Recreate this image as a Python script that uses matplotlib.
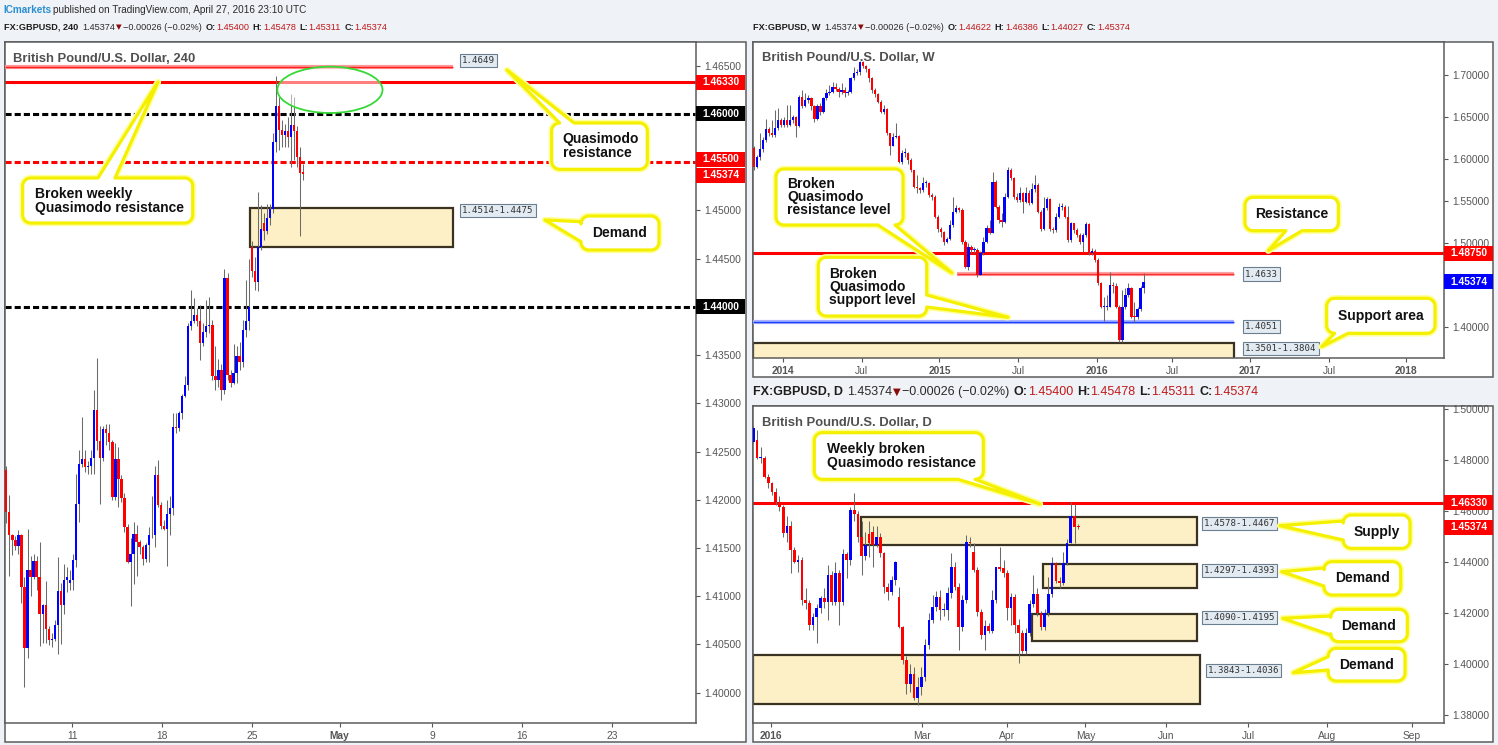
"""GBP/USD snapshot in three panes: 4H (left), weekly (top right), daily (bottom right)."""

import numpy as np
import matplotlib
matplotlib.use("Agg")
import matplotlib.pyplot as plt
from matplotlib import font_manager, transforms
from matplotlib.patches import Rectangle, Ellipse, Polygon

# ---------------------------------------------------------------- 4H data
h4_open = [1.4231, 1.4187, 1.4164, 1.4158, 1.4152, 1.4164, 1.4110, 1.4046, 1.4127, 1.4120,
           1.4137, 1.4120, 1.4082, 1.4091, 1.4066, 1.4055, 1.4056, 1.4070, 1.4105, 1.4091,
           1.4117, 1.4114, 1.4117, 1.4138, 1.4196, 1.4237, 1.4242, 1.4234, 1.4235, 1.4243,
           1.4293, 1.4261, 1.4243, 1.4273, 1.4269, 1.4260, 1.4203, 1.4242, 1.4222, 1.4202,
           1.4172, 1.4135, 1.4144, 1.4165, 1.4156, 1.4151, 1.4139, 1.4153, 1.4164, 1.4163,
           1.4226, 1.4195, 1.4173, 1.4170, 1.4185, 1.4192, 1.4275, 1.4274, 1.4290, 1.4308,
           1.4319, 1.4380, 1.4385, 1.4392, 1.4385, 1.4363, 1.4374, 1.4380, 1.4381, 1.4328,
           1.4324, 1.4335, 1.4314, 1.4430, 1.4329, 1.4321, 1.4331, 1.4349, 1.4343, 1.4376,
           1.4385, 1.4462, 1.4437, 1.4426, 1.4462, 1.4487, 1.4479, 1.4492, 1.4501, 1.4571,
           1.4608, 1.4583, 1.4578, 1.4582, 1.4576, 1.4589, 1.4582, 1.4555, 1.45400]
h4_high = [1.4235, 1.4205, 1.4165, 1.4162, 1.4169, 1.4165, 1.4120, 1.4170, 1.4142, 1.4144,
           1.4142, 1.4156, 1.4092, 1.4116, 1.4069, 1.4062, 1.4075, 1.4141, 1.4114, 1.4133,
           1.4130, 1.4127, 1.4144, 1.4227, 1.4252, 1.4286, 1.4252, 1.4240, 1.4252, 1.4314,
           1.4347, 1.4276, 1.4276, 1.4279, 1.4279, 1.4262, 1.4259, 1.4255, 1.4226, 1.4207,
           1.4175, 1.4160, 1.4177, 1.4174, 1.4158, 1.4153, 1.4155, 1.4172, 1.4204, 1.4235,
           1.4241, 1.4198, 1.4179, 1.4200, 1.4204, 1.4290, 1.4290, 1.4292, 1.4310, 1.4328,
           1.4383, 1.4418, 1.4409, 1.4399, 1.4402, 1.4383, 1.4407, 1.4410, 1.4386, 1.4359,
           1.4346, 1.4341, 1.4439, 1.4435, 1.4335, 1.4362, 1.4359, 1.4364, 1.4386, 1.4428,
           1.4450, 1.4468, 1.4452, 1.4519, 1.4506, 1.4497, 1.4507, 1.4507, 1.4580, 1.4639,
           1.4618, 1.4594, 1.4590, 1.4597, 1.4621, 1.4618, 1.4587, 1.4566, 1.45478]
h4_low = [1.4176, 1.4121, 1.4143, 1.4148, 1.4144, 1.4093, 1.4006, 1.4036, 1.4100, 1.4118,
          1.4107, 1.4048, 1.4052, 1.4052, 1.4049, 1.4047, 1.4054, 1.4040, 1.4050, 1.4082,
          1.4104, 1.4107, 1.4107, 1.4130, 1.4177, 1.4234, 1.4229, 1.4227, 1.4227, 1.4227,
          1.4252, 1.4196, 1.4240, 1.4257, 1.4252, 1.4200, 1.4200, 1.4193, 1.4198, 1.4167,
          1.4134, 1.4090, 1.4113, 1.4121, 1.4144, 1.4132, 1.4136, 1.4136, 1.4160, 1.4151,
          1.4193, 1.4170, 1.4169, 1.4131, 1.4164, 1.4184, 1.4269, 1.4271, 1.4284, 1.4307,
          1.4314, 1.4376, 1.4383, 1.4380, 1.4345, 1.4359, 1.4369, 1.4373, 1.4324, 1.4314,
          1.4317, 1.4303, 1.4310, 1.4324, 1.4317, 1.4320, 1.4321, 1.4335, 1.4338, 1.4369,
          1.4376, 1.4431, 1.4418, 1.4416, 1.4459, 1.4469, 1.4476, 1.4485, 1.4497, 1.4561,
          1.4563, 1.4566, 1.4566, 1.4566, 1.4545, 1.4552, 1.4545, 1.4473, 1.45311]
h4_close = [1.4187, 1.4164, 1.4158, 1.4152, 1.4164, 1.4110, 1.4046, 1.4127, 1.4120, 1.4137,
            1.4120, 1.4082, 1.4091, 1.4066, 1.4055, 1.4056, 1.4070, 1.4105, 1.4091, 1.4117,
            1.4120, 1.4117, 1.4138, 1.4196, 1.4237, 1.4242, 1.4234, 1.4235, 1.4243, 1.4293,
            1.4261, 1.4243, 1.4273, 1.4269, 1.4260, 1.4203, 1.4242, 1.4222, 1.4202, 1.4172,
            1.4135, 1.4144, 1.4165, 1.4156, 1.4151, 1.4139, 1.4153, 1.4164, 1.4163, 1.4226,
            1.4195, 1.4173, 1.4170, 1.4185, 1.4192, 1.4275, 1.4274, 1.4290, 1.4308, 1.4319,
            1.4380, 1.4385, 1.4392, 1.4385, 1.4363, 1.4374, 1.4380, 1.4381, 1.4328, 1.4324,
            1.4335, 1.4314, 1.4430, 1.4329, 1.4321, 1.4331, 1.4349, 1.4343, 1.4376, 1.4385,
            1.4400, 1.4437, 1.4426, 1.4462, 1.4481, 1.4479, 1.4492, 1.4501, 1.4571, 1.4608,
            1.4583, 1.4578, 1.4582, 1.4576, 1.4589, 1.4582, 1.4555, 1.4539, 1.45374]
h4_ticks = [21.7, 51.4, 81.1, 110.0, 140.5, 170.2, 199.9]
h4_tick_labels = ["11", "18", "25", "May", "9", "16", "23"]
h4_qm_weekly = 1.4633          # broken weekly Quasimodo resistance
h4_qm_resist = 1.4649          # Quasimodo resistance
h4_round = [1.4600, 1.4400]    # round numbers (black dashed)
h4_mid = 1.4550                # mid level (red dashed)
h4_demand = (1.4462, 1.4503)   # drawn demand box (labelled 1.4514-1.4475)

# ------------------------------------------------------------ weekly data
w_first_open = 1.6126
w_close = [1.5907, 1.6019, 1.6114, 1.6225, 1.6352, 1.6305, 1.6285, 1.6364, 1.6463, 1.6404,
           1.6463, 1.6404, 1.6463, 1.6495, 1.6392, 1.6742, 1.6630, 1.6702, 1.6722, 1.6630,
           1.6475, 1.6630, 1.6563, 1.6722, 1.6789, 1.6801, 1.6861, 1.6829, 1.6801, 1.6821,
           1.6789, 1.6801, 1.6960, 1.7020, 1.7032, 1.7159, 1.7107, 1.7067, 1.6960, 1.6821,
           1.6773, 1.6682, 1.6563, 1.6591, 1.6305, 1.6154, 1.6265, 1.6277, 1.5967, 1.6066,
           1.6074, 1.5987, 1.5868, 1.5669, 1.5649, 1.5629, 1.5717, 1.5717, 1.5570, 1.5550,
           1.5311, 1.5160, 1.5133, 1.5013, 1.5041, 1.5212, 1.5371, 1.5411, 1.5391, 1.5013,
           1.4715, 1.4954, 1.4914, 1.4914, 1.4616, 1.4874, 1.5013, 1.5172, 1.5121, 1.5728,
           1.5430, 1.5272, 1.5252, 1.5550, 1.5868, 1.5768, 1.5550, 1.5510, 1.5589, 1.5490,
           1.5597, 1.5478, 1.5637, 1.5689, 1.5371, 1.5160, 1.5411, 1.5518, 1.5160, 1.5152,
           1.5311, 1.5430, 1.5430, 1.5311, 1.5033, 1.5232, 1.5152, 1.5093, 1.5013, 1.5093,
           1.5224, 1.4874, 1.4906, 1.4795, 1.4517, 1.4239, 1.4239, 1.4239, 1.4497, 1.4489,
           1.4239, 1.3841, 1.4239, 1.4378, 1.4457, 1.4119, 1.4111, 1.4207, 1.4462, 1.45374]
w_high = [1.6154, 1.6046, 1.6305, 1.6265, 1.6471, 1.6376, 1.6463, 1.6583, 1.6603, 1.6483,
          1.6495, 1.6642, 1.6642, 1.6523, 1.6511, 1.6761, 1.6821, 1.6781, 1.6761, 1.6742,
          1.6642, 1.6654, 1.6662, 1.6742, 1.6829, 1.6881, 1.6920, 1.6901, 1.6861, 1.6908,
          1.6861, 1.6821, 1.6980, 1.7091, 1.7067, 1.7171, 1.7171, 1.7119, 1.7079, 1.6972,
          1.6841, 1.6781, 1.6702, 1.6642, 1.6603, 1.6313, 1.6305, 1.6424, 1.6285, 1.6106,
          1.6126, 1.6086, 1.6007, 1.5868, 1.5808, 1.5669, 1.5788, 1.5748, 1.5728, 1.5589,
          1.5570, 1.5331, 1.5192, 1.5144, 1.5073, 1.5272, 1.5550, 1.5450, 1.5430, 1.5411,
          1.5033, 1.4993, 1.4974, 1.4954, 1.4934, 1.4906, 1.5073, 1.5212, 1.5272, 1.5848,
          1.5748, 1.5450, 1.5351, 1.5589, 1.5907, 1.5887, 1.5788, 1.5589, 1.5669, 1.5609,
          1.5669, 1.5629, 1.5709, 1.5808, 1.5709, 1.5391, 1.5550, 1.5550, 1.5530, 1.5192,
          1.5351, 1.5470, 1.5470, 1.5450, 1.5438, 1.5252, 1.5240, 1.5172, 1.5113, 1.5113,
          1.5252, 1.5232, 1.4934, 1.4922, 1.4815, 1.4537, 1.4358, 1.4378, 1.4656, 1.4537,
          1.4517, 1.4258, 1.4437, 1.4457, 1.4517, 1.4477, 1.4298, 1.4239, 1.4480, 1.46386]
w_low = [1.5868, 1.5887, 1.5987, 1.6086, 1.6205, 1.6273, 1.6257, 1.6265, 1.6344, 1.6376,
         1.6376, 1.6376, 1.6392, 1.6424, 1.6265, 1.6376, 1.6603, 1.6622, 1.6662, 1.6583,
         1.6444, 1.6463, 1.6523, 1.6543, 1.6702, 1.6761, 1.6781, 1.6813, 1.6734, 1.6773,
         1.6734, 1.6761, 1.6781, 1.6940, 1.7000, 1.7000, 1.7079, 1.7040, 1.6920, 1.6789,
         1.6742, 1.6662, 1.6551, 1.6535, 1.6285, 1.6046, 1.6154, 1.6245, 1.5947, 1.5939,
         1.6019, 1.5939, 1.5848, 1.5649, 1.5597, 1.5597, 1.5609, 1.5669, 1.5550, 1.5510,
         1.5291, 1.5133, 1.5073, 1.4974, 1.5001, 1.5033, 1.5192, 1.5351, 1.5371, 1.4986,
         1.4696, 1.4676, 1.4874, 1.4874, 1.4596, 1.4616, 1.4854, 1.4993, 1.5105, 1.5113,
         1.5411, 1.5232, 1.5192, 1.5232, 1.5530, 1.5748, 1.5518, 1.5490, 1.5490, 1.5351,
         1.5470, 1.5450, 1.5462, 1.5609, 1.5351, 1.5144, 1.5152, 1.5391, 1.5144, 1.5113,
         1.5133, 1.5291, 1.5391, 1.5291, 1.5013, 1.5013, 1.5121, 1.5073, 1.4986, 1.4894,
         1.5073, 1.4854, 1.4854, 1.4775, 1.4497, 1.4219, 1.4072, 1.4199, 1.4239, 1.4398,
         1.4219, 1.3821, 1.3821, 1.4207, 1.4358, 1.4100, 1.4060, 1.4088, 1.4191, 1.44027]
w_last_open = 1.44622
w_ticks = [9.5, 35.7, 61.4, 87.5, 113.5, 138.5, 164.2, 190.4, 215.8]
w_tick_labels = ["2014", "Jul", "2015", "Jul", "2016", "Jul", "2017", "Jul", "2018"]
w_resistance = 1.4875
w_qm_resist = 1.4633
w_qm_support = 1.4051
w_support_area = (1.3501, 1.3804)

# ------------------------------------------------------------- daily data
d_open = [1.4873, 1.4880, 1.4808, 1.4808, 1.4736, 1.4709, 1.4677, 1.4637, 1.4618, 1.4513,
          1.4542, 1.4448, 1.4402, 1.4408, 1.4251, 1.4241, 1.4153, 1.4186, 1.4219, 1.4258,
          1.4245, 1.4350, 1.4245, 1.4356, 1.4245, 1.4432, 1.4408, 1.4605, 1.4589, 1.4500,
          1.4424, 1.4510, 1.4520, 1.4467, 1.4500, 1.4435, 1.4304, 1.4284, 1.4330, 1.4264,
          1.4147, 1.4016, 1.3922, 1.3961, 1.3865, 1.3911, 1.3948, 1.4075, 1.4173, 1.4225,
          1.4262, 1.4212, 1.4212, 1.4278, 1.4382, 1.4301, 1.4147, 1.4251, 1.4480, 1.4440,
          1.4369, 1.4203, 1.4114, 1.4149, 1.4131, 1.4251, 1.4380, 1.4376, 1.4356, 1.4219,
          1.4262, 1.4153, 1.4121, 1.4053, 1.4121, 1.4236, 1.4275, 1.4199, 1.4147, 1.4199,
          1.4275, 1.4395, 1.4327, 1.4319, 1.4398, 1.4476, 1.4581, 1.45400]
d_high = [1.4938, 1.4919, 1.4853, 1.4815, 1.4745, 1.4715, 1.4690, 1.4660, 1.4625, 1.4580,
          1.4560, 1.4460, 1.4430, 1.4420, 1.4300, 1.4250, 1.4200, 1.4235, 1.4268, 1.4300,
          1.4390, 1.4365, 1.4400, 1.4370, 1.4450, 1.4441, 1.4618, 1.4670, 1.4600, 1.4560,
          1.4520, 1.4560, 1.4540, 1.4540, 1.4513, 1.4440, 1.4320, 1.4345, 1.4405, 1.4304,
          1.4150, 1.4030, 1.4000, 1.3990, 1.3950, 1.3990, 1.4100, 1.4200, 1.4270, 1.4285,
          1.4290, 1.4240, 1.4304, 1.4437, 1.4400, 1.4320, 1.4270, 1.4506, 1.4500, 1.4474,
          1.4380, 1.4215, 1.4173, 1.4160, 1.4291, 1.4382, 1.4461, 1.4408, 1.4370, 1.4278,
          1.4275, 1.4175, 1.4135, 1.4140, 1.4251, 1.4350, 1.4297, 1.4210, 1.4215, 1.4343,
          1.4421, 1.4402, 1.4340, 1.4441, 1.4490, 1.4638, 1.4628, 1.45478]
d_low = [1.4866, 1.4804, 1.4790, 1.4730, 1.4690, 1.4665, 1.4625, 1.4600, 1.4500, 1.4480,
         1.4356, 1.4395, 1.4360, 1.4230, 1.4215, 1.4133, 1.4133, 1.4082, 1.4200, 1.4220,
         1.4173, 1.4230, 1.4230, 1.4153, 1.4230, 1.4337, 1.4390, 1.4560, 1.4480, 1.4350,
         1.4410, 1.4420, 1.4380, 1.4460, 1.4420, 1.4278, 1.4251, 1.4270, 1.4310, 1.4140,
         1.4000, 1.3882, 1.3890, 1.3860, 1.3839, 1.3880, 1.3935, 1.4060, 1.4160, 1.4210,
         1.4173, 1.4190, 1.4173, 1.4260, 1.4290, 1.4055, 1.4130, 1.4240, 1.4460, 1.4360,
         1.4190, 1.4100, 1.4055, 1.4120, 1.4121, 1.4240, 1.4365, 1.4340, 1.4173, 1.4153,
         1.4121, 1.4006, 1.4045, 1.4040, 1.4110, 1.4225, 1.4190, 1.4135, 1.4133, 1.4190,
         1.4265, 1.4319, 1.4300, 1.4310, 1.4390, 1.4474, 1.4474, 1.45311]
d_close = [1.4925, 1.4808, 1.4811, 1.4736, 1.4709, 1.4677, 1.4637, 1.4618, 1.4513, 1.4542,
           1.4448, 1.4402, 1.4408, 1.4251, 1.4241, 1.4153, 1.4186, 1.4219, 1.4258, 1.4245,
           1.4350, 1.4245, 1.4356, 1.4245, 1.4432, 1.4408, 1.4605, 1.4589, 1.4500, 1.4424,
           1.4467, 1.4474, 1.4467, 1.4500, 1.4435, 1.4304, 1.4284, 1.4330, 1.4402, 1.4147,
           1.4016, 1.3922, 1.3961, 1.3865, 1.3911, 1.3948, 1.4075, 1.4173, 1.4225, 1.4262,
           1.4212, 1.4212, 1.4278, 1.4382, 1.4301, 1.4147, 1.4251, 1.4480, 1.4474, 1.4369,
           1.4203, 1.4114, 1.4149, 1.4131, 1.4251, 1.4380, 1.4372, 1.4356, 1.4219, 1.4262,
           1.4153, 1.4121, 1.4053, 1.4121, 1.4236, 1.4275, 1.4199, 1.4147, 1.4199, 1.4275,
           1.4395, 1.4327, 1.4319, 1.4398, 1.4476, 1.4581, 1.4539, 1.45374]
d_ticks = [4.66, 45.2, 68.0, 88.9, 110.5, 132.5, 153.5, 176.2]
d_tick_labels = ["2016", "Mar", "Apr", "May", "Jun", "Jul", "Aug", "Sep"]
d_weekly_qm = 1.4633
d_supply = (1.4467, 1.4578)
d_demand = [(1.4297, 1.4393), (1.4090, 1.4195), (1.3843, 1.4036)]

# ------------------------------------------------------------------ style
W, H = 1498, 745
BG = "#eff2f6"
FRAME = "#5c5c5c"
UP, DOWN, WICK = "#0000ff", "#ff0000", "#6b6b6b"
ZONE_FC, ZONE_EC = "#fdf0c6", "#3a3322"
TICK_C = "#555555"
VAL_RED = "#c0181a"

_names = {f.name for f in font_manager.fontManager.ttflist}
NARROW = "Liberation Sans Narrow" if "Liberation Sans Narrow" in _names else "Liberation Sans"
plt.rcParams["font.family"] = ["Liberation Sans", "DejaVu Sans"]

fig = plt.figure(figsize=(W / 100, H / 100), dpi=100, facecolor=BG)
renderer = fig.canvas.get_renderer()

bg = fig.add_axes([0, 0, 1, 1], zorder=-10)
bg.set_xlim(0, W); bg.set_ylim(H, 0); bg.axis("off")
ov = fig.add_axes([0, 0, 1, 1], zorder=10)
ov.set_xlim(0, W); ov.set_ylim(H, 0); ov.axis("off")


def panel(rect, frame, xlim, ylim, yticks, hidden, xticks, xlabels, bold_labels):
    fx0, fy0, fx1, fy1 = frame
    bg.add_patch(Rectangle((fx0, fy0), fx1 - fx0, fy1 - fy0, fc="white", ec=FRAME, lw=1.1))
    x0, y0, x1, y1 = rect
    ax = fig.add_axes([x0 / W, 1 - y1 / H, (x1 - x0) / W, (y1 - y0) / H])
    ax.set_facecolor("white")
    ax.set_xlim(*xlim); ax.set_ylim(*ylim)
    ax.yaxis.tick_right()
    ax.set_yticks(yticks)
    # labels sitting under a coloured price tag are left out
    ax.set_yticklabels(["" if any(abs(v - hv) < 1e-6 for hv in hidden) else f"{v:.5f}" for v in yticks])
    ax.set_xticks(xticks)
    ax.set_xticklabels(xlabels)
    ax.tick_params(axis="both", direction="out", length=3, width=0.8, color=TICK_C,
                   labelcolor=TICK_C, labelsize=7.4, pad=3)
    for lab in ax.get_xticklabels():
        if lab.get_text() in bold_labels:
            lab.set_fontweight("bold")
    for s in ax.spines.values():
        s.set_color(FRAME); s.set_linewidth(1.1)
    return ax


def candles(ax, o, h, l, c, width, min_h):
    o, h, l, c = (np.asarray(v, float) for v in (o, h, l, c))
    x = np.arange(len(o))
    hi = np.maximum(h, np.maximum(o, c))
    lo = np.minimum(l, np.minimum(o, c))
    ax.vlines(x, lo, hi, color=WICK, lw=0.75, zorder=3)
    colors = np.where(c >= o, UP, DOWN)
    ax.bar(x, np.maximum(np.abs(c - o), min_h), width, bottom=np.minimum(o, c),
           color=colors, linewidth=0, zorder=3.5)


def tag(ax, y, s, fc, dy=0.0):
    pos = ax.get_position()
    axw, axh = pos.width * W, pos.height * H
    y0, y1 = ax.get_ylim()
    per = axh / (y1 - y0)
    yc = y - dy / per
    tr = transforms.blended_transform_factory(ax.transAxes, ax.transData)
    ax.add_patch(Rectangle((1.0, yc - 7.5 / per), 49 / axw, 15 / per, transform=tr,
                           fc=fc, ec="none", clip_on=False, zorder=6))
    ax.text(1.0 + 25 / axw, yc, s, transform=tr, ha="center", va="center", color="white",
            fontsize=7.4, fontweight="bold", clip_on=False, zorder=7)


def soft_line(ax, y, x0, x1, core, halo):
    ax.hlines(y, x0, x1, color=halo, lw=3.0, zorder=2.6)
    ax.hlines(y, x0, x1, color=core, lw=1.0, zorder=2.7)


def zone(ax, x0, x1, lo, hi):
    ax.add_patch(Rectangle((x0, lo), x1 - x0, hi - lo, fc=ZONE_FC, ec=ZONE_EC, lw=1.6, zorder=1.5))


def value_label(ax, x, y, s):
    ax.text(x, y, s, fontsize=6.6, family="DejaVu Sans Mono", color="#333333", ha="left",
            va="center", zorder=8,
            bbox=dict(boxstyle="square,pad=0.22", fc="#e3ebf2", ec="#6b7f90", lw=0.8))


def bubble(box, side, s1, s2, tip, text, tx, ty, ha="left", r=8):
    x0, y0, x1, y1 = box
    pts = []

    def arc(cx, cy, a0, a1):
        for a in np.linspace(a0, a1, 9):
            pts.append((cx + r * np.cos(a), cy + r * np.sin(a)))

    pts.append((x0 + r, y0))
    if side == "top":
        pts.extend([(s1, y0), tip, (s2, y0)])
    arc(x1 - r, y0 + r, -np.pi / 2, 0)
    if side == "right":
        pts.extend([(x1, s1), tip, (x1, s2)])
    arc(x1 - r, y1 - r, 0, np.pi / 2)
    if side == "bottom":
        pts.extend([(s2, y1), tip, (s1, y1)])
    arc(x0 + r, y1 - r, np.pi / 2, np.pi)
    if side == "left":
        pts.extend([(x0, s2), tip, (x0, s1)])
    arc(x0 + r, y0 + r, np.pi, 1.5 * np.pi)
    ov.add_patch(Polygon(pts, closed=True, fc="none", ec="#ffff9c", lw=4.6, joinstyle="round", zorder=20))
    ov.add_patch(Polygon(pts, closed=True, fc="white", ec="#f4f000", lw=2.3, joinstyle="round", zorder=21))
    ov.text(tx, ty, text, ha=ha, va="center", fontsize=10, fontweight="bold", color="#111111",
            linespacing=0.92, zorder=22)


STYLE = {
    "bold": dict(color="#1e1e1e", fontweight="bold"),
    "txt": dict(color="#2a2a2a"),
    "val": dict(color=VAL_RED),
    "brand": dict(color="#2a8fd0", fontweight="bold"),
    "arrow": dict(color="#8b0a0a", family="DejaVu Sans"),
}


def header(x, y, pieces, size):
    # pieces laid out left to right, each followed by its own gap (px)
    for s, kind, gap in pieces:
        kw = dict(family=NARROW, fontsize=size)
        kw.update(STYLE[kind])
        if kind == "arrow":
            kw["fontsize"] = size * 0.8
        t = ov.text(x, y, s, ha="left", va="center", **kw)
        x += t.get_window_extent(renderer=renderer).width + gap


def quote_row(symbol, o, h, l, c):
    return [(symbol, "bold", 4), ("1.45374", "txt", 1), ("\u25bc", "arrow", 1),
            ("\u22120.00026 (\u22120.02%)", "txt", 4),
            ("O:", "bold", 0.5), (o, "val", 3.5), ("H:", "bold", 0.5), (h, "val", 3.5),
            ("L:", "bold", 0.5), (l, "val", 3.5), ("C:", "bold", 0.5), (c, "val", 0)]


# ------------------------------------------------------------------ 4H pane
ax4 = panel((5, 42, 696, 723), (5, 42, 746, 742), (-0.43, 227.6), (1.39686, 1.46746),
            np.arange(1.400, 1.4651, 0.005), (1.46, 1.455, 1.44),
            h4_ticks, h4_tick_labels, ("May",))
zone(ax4, 80.4, 147.3, *h4_demand)
candles(ax4, h4_open, h4_high, h4_low, h4_close, 0.76, 0.0001)
ax4.axhline(h4_qm_weekly, color="#ff0000", lw=2.2, zorder=2.5)
soft_line(ax4, h4_qm_resist, -0.43, 147.3, "#ff2020", "#ff9a9a")
for lvl in h4_round:
    ax4.axhline(lvl, color="#000000", lw=2.2, ls=(0, (2, 1)), zorder=2.5)
ax4.axhline(h4_mid, color="#ff0000", lw=2.2, ls=(0, (2, 1)), zorder=2.5)
ax4.add_patch(Ellipse((106.8, 1.4625), 34.7, 0.0048, fc=(1, 1, 1, 0.5), ec="#36d936", lw=1.3, zorder=5))
value_label(ax4, 150.4, 1.4655, "1.4649")
value_label(ax4, 150.4, 1.4500, "1.4514-1.4475")
ax4.text(0.012, 0.975, "British Pound/U.S. Dollar, 240", transform=ax4.transAxes, fontsize=9.4,
         fontweight="bold", color="#505050", ha="left", va="center")
tag(ax4, h4_qm_weekly, "1.46330", "#ff0000")
tag(ax4, 1.4600, "1.46000", "#000000")
tag(ax4, h4_mid, "1.45500", "#ff0000", dy=-3)
tag(ax4, h4_close[-1], "1.45374", "#ff0000", dy=1)
tag(ax4, 1.4400, "1.44000", "#000000")

# -------------------------------------------------------------- weekly pane
axw = panel((752.7, 42, 1444, 358), (752.7, 42, 1493, 377), (-0.43, 228.5), (1.3627, 1.7393),
            np.arange(1.40, 1.701, 0.05), (1.45,),
            w_ticks, w_tick_labels, ("2014", "2015", "2016", "2017", "2018"))
w_open = [w_first_open] + w_close[:-2] + [w_last_open]
zone(axw, -0.43, 158.9, *w_support_area)
axw.axhline(w_resistance, color="#ff0000", lw=2.2, zorder=2.5)
soft_line(axw, w_qm_resist, 67.1, 158.9, "#ff3030", "#ffa0a0")
soft_line(axw, w_qm_support, -0.43, 158.9, "#2040ff", "#a8b4ff")
candles(axw, w_open, w_high, w_low, w_close, 0.76, 0.0012)
value_label(axw, 162.6, 1.4628, "1.4633")
value_label(axw, 162.6, 1.4008, "1.4051")
value_label(axw, 162.6, 1.3740, "1.3501-1.3804")
axw.text(0.013, 0.95, "British Pound/U.S. Dollar, W", transform=axw.transAxes, fontsize=9.4,
         fontweight="bold", color="#505050", ha="left", va="center")
tag(axw, w_resistance, "1.48750", "#ff0000")
tag(axw, w_close[-1], "1.45374", "#0000ff")

# --------------------------------------------------------------- daily pane
axd = panel((752.7, 405.7, 1444, 723), (752.7, 405.7, 1493, 742), (-0.16, 184.9), (1.37686, 1.50141),
            np.arange(1.38, 1.501, 0.02), (), d_ticks, d_tick_labels, ("2016",))
zone(axd, 28.8, 118.7, *d_supply)
zone(axd, 77.6, 118.7, *d_demand[0])
zone(axd, 74.5, 118.7, *d_demand[1])
zone(axd, -0.16, 119.6, *d_demand[2])
axd.axhline(d_weekly_qm, color="#ff0000", lw=2.2, zorder=2.5)
candles(axd, d_open, d_high, d_low, d_close, 0.72, 0.0004)
value_label(axd, 120.6, 1.4552, "1.4578-1.4467")
value_label(axd, 120.6, 1.4367, "1.4297-1.4393")
value_label(axd, 120.6, 1.4183, "1.4090-1.4195")
value_label(axd, 121.7, 1.3975, "1.3843-1.4036")
axd.text(0.013, 0.947, "British Pound/U.S. Dollar, D", transform=axd.transAxes, fontsize=9.4,
         fontweight="bold", color="#505050", ha="left", va="center")
tag(axd, d_weekly_qm, "1.46330", "#ff0000")
tag(axd, d_close[-1], "1.45374", "#ff0000")

# --------------------------------------------------------------- callouts
bubble((22.7, 178, 192.7, 223), "top", 98, 115, (158, 82),
       "Broken weekly\nQuasimodo resistance", 35, 201)
bubble((551.7, 123, 647.3, 169.3), "top", 559.7, 574, (507, 70), "Quasimodo\nresistance", 562.7, 146)
bubble((581, 216, 659, 250), "left", 221.7, 241.7, (545, 220), "Demand", 620, 233, ha="center")
bubble((776, 169, 903, 225), "bottom", 878, 895, (952, 273),
       "Broken\nQuasimodo\nresistance level", 787.3, 197)
bubble((818.3, 257.3, 926.7, 316), "right", 295, 307, (1008, 317.3),
       "Broken\nQuasimodo\nsupport level", 829.3, 287)
bubble((1245, 197.3, 1338.3, 230.7), "bottom", 1286, 1302, (1268.3, 250.7), "Resistance",
       1291.7, 214, ha="center")
bubble((1326.7, 298.3, 1435, 333.3), "bottom", 1334.7, 1348, (1321.7, 346.7), "Support area",
       1381, 316, ha="center")
bubble((814.3, 432.7, 983.3, 479.3), "bottom", 958, 975, (1040, 504),
       "Weekly broken\nQuasimodo resistance", 826.7, 456)
bubble((1343.3, 515, 1410, 548.3), "left", 521, 540, (1280, 525.7), "Supply", 1376.7, 532, ha="center")
bubble((1324, 561.7, 1400.7, 595), "left", 568, 586, (1281.7, 571.7), "Demand", 1362.3, 578.5, ha="center")
bubble((1330.7, 609.3, 1407.3, 641.7), "left", 616, 635, (1282.7, 618.3), "Demand", 1369, 625.5, ha="center")
bubble((1328.3, 648.3, 1405, 681), "left", 656.7, 670, (1293.3, 672.7), "Demand", 1366.7, 665, ha="center")

# ---------------------------------------------------------------- headers
header(3, 10, [("ICmarkets", "brand", 2),
               ("published on TradingView.com, April 27, 2016 23:10 UTC", "txt", 0)], 7.2)
header(4, 27.3, quote_row("FX:GBPUSD, 240", "1.45400", "1.45478", "1.45311", "1.45374"), 6.6)
header(752.7, 27.3, quote_row("FX:GBPUSD, W", "1.44622", "1.46386", "1.44027", "1.45374"), 6.6)
header(753.3, 391.7, quote_row("FX:GBPUSD, D", "1.45400", "1.45478", "1.45311", "1.45374"), 9.0)

fig.savefig("out.png", dpi=100, facecolor=BG)
plt.close(fig)
